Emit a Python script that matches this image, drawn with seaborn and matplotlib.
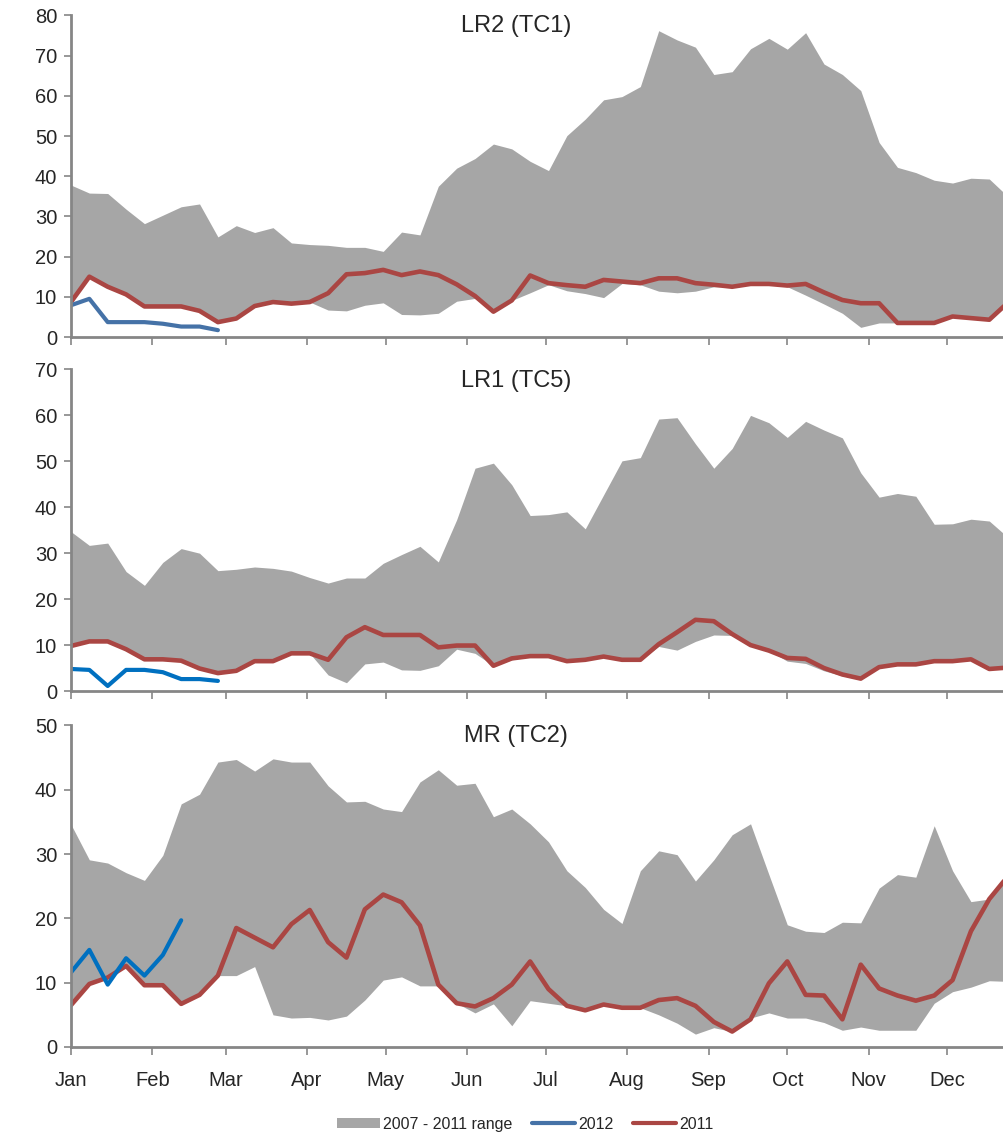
import numpy as np
import pandas as pd
import matplotlib
matplotlib.use('Agg')
import matplotlib.pyplot as plt
import seaborn as sns
from matplotlib.patches import Patch
from matplotlib.lines import Line2D

# Style
sns.set_style('white')
plt.rcParams['font.family'] = ['Liberation Sans', 'DejaVu Sans']

# Weekly data (week 1 .. 52)
months = ['Jan', 'Feb', 'Mar', 'Apr', 'May', 'Jun', 'Jul', 'Aug', 'Sep', 'Oct', 'Nov', 'Dec']
month_start_day = [0, 31, 59, 90, 120, 151, 181, 212, 243, 273, 304, 334]

# LR2 (TC1)
lr2_upper = [37.8, 35.8, 35.7, 31.8, 28.2, 30.3, 32.4, 33.1, 24.9, 27.7, 26.0, 27.2, 23.4,
             23.0, 22.8, 22.3, 22.3, 21.3, 26.1, 25.4, 37.5, 42.0, 44.4, 48.0, 46.8, 43.7,
             41.4, 50.1, 54.2, 59.0, 59.8, 62.3, 76.2, 73.9, 72.1, 65.3, 66.0, 71.7, 74.3,
             71.6, 75.7, 67.9, 65.3, 61.3, 48.4, 42.2, 40.9, 39.0, 38.3, 39.5, 39.3, 35.0]
lr2_lower = [8.7, 15.0, 12.5, 10.6, 7.6, 7.6, 7.6, 6.5, 3.7, 4.6, 7.7, 8.7, 8.3,
             8.7, 6.7, 6.5, 7.9, 8.5, 5.6, 5.5, 5.9, 8.9, 9.6, 6.3, 9.1, 11.0,
             13.0, 11.5, 10.8, 9.8, 13.3, 13.0, 11.4, 11.0, 11.4, 12.5, 12.5, 13.2, 13.2,
             12.5, 10.4, 8.2, 5.9, 2.4, 3.5, 3.5, 3.5, 3.5, 5.1, 4.7, 4.3, 8.5]
lr2_2011 = [8.7, 15.0, 12.5, 10.6, 7.6, 7.6, 7.6, 6.5, 3.7, 4.6, 7.7, 8.7, 8.3,
            8.7, 10.9, 15.6, 15.9, 16.7, 15.4, 16.3, 15.4, 13.1, 10.2, 6.3, 9.1, 15.3,
            13.4, 12.9, 12.5, 14.2, 13.8, 13.4, 14.6, 14.6, 13.4, 13.0, 12.5, 13.2, 13.2,
            12.8, 13.2, 11.1, 9.2, 8.4, 8.4, 3.5, 3.5, 3.5, 5.1, 4.7, 4.3, 8.5]
lr2_2012 = [7.9, 9.5, 3.7, 3.7, 3.7, 3.3, 2.6, 2.6, 1.7]

# LR1 (TC5)
lr1_upper = [34.7, 31.7, 32.2, 26.0, 23.0, 28.0, 31.0, 30.0, 26.2, 26.5, 27.0, 26.7, 26.1,
             24.7, 23.5, 24.6, 24.6, 27.8, 29.7, 31.5, 28.1, 37.3, 48.5, 49.6, 44.9, 38.2,
             38.4, 39.0, 35.3, 42.7, 50.1, 50.8, 59.2, 59.5, 53.8, 48.5, 52.8, 60.0, 58.4,
             55.2, 58.7, 56.8, 55.1, 47.5, 42.2, 43.0, 42.4, 36.3, 36.4, 37.4, 37.0, 33.5]
lr1_lower = [9.8, 10.8, 10.8, 9.1, 6.9, 6.9, 6.6, 4.9, 3.9, 4.4, 6.5, 6.5, 8.2,
             8.2, 3.5, 1.8, 5.9, 6.3, 4.6, 4.5, 5.5, 9.1, 8.2, 5.5, 6.8, 7.6,
             7.6, 6.5, 6.8, 7.5, 6.8, 6.8, 9.7, 8.9, 10.8, 12.2, 12.1, 10.0, 8.8,
             6.5, 6.0, 4.4, 3.3, 2.5, 5.2, 5.8, 5.8, 6.5, 6.5, 6.9, 4.8, 5.1]
lr1_2011 = [9.8, 10.8, 10.8, 9.1, 6.9, 6.9, 6.6, 4.9, 3.9, 4.4, 6.5, 6.5, 8.2,
            8.2, 6.8, 11.7, 13.9, 12.2, 12.2, 12.2, 9.5, 9.9, 9.9, 5.5, 7.1, 7.6,
            7.6, 6.5, 6.8, 7.5, 6.8, 6.8, 10.2, 12.8, 15.5, 15.2, 12.4, 10.0, 8.8,
            7.2, 7.0, 5.0, 3.6, 2.7, 5.2, 5.8, 5.8, 6.5, 6.5, 6.9, 4.8, 5.1]
lr1_2012 = [4.8, 4.6, 1.1, 4.6, 4.6, 4.1, 2.6, 2.6, 2.2]

# MR (TC2)
mr_upper = [34.6, 29.1, 28.6, 27.1, 25.9, 29.8, 37.8, 39.3, 44.3, 44.7, 42.9, 44.8, 44.3,
            44.3, 40.6, 38.1, 38.2, 37.0, 36.6, 41.2, 43.1, 40.7, 41.0, 35.8, 37.0, 34.7,
            31.9, 27.4, 24.8, 21.4, 19.2, 27.4, 30.5, 29.9, 25.8, 29.1, 33.0, 34.7, 26.8,
            19.0, 18.0, 17.8, 19.4, 19.3, 24.7, 26.8, 26.4, 34.4, 27.4, 22.6, 23.0, 26.5]
mr_lower = [6.5, 9.8, 10.8, 12.6, 9.6, 9.6, 6.7, 8.1, 11.1, 11.1, 12.5, 5.0, 4.5,
            4.6, 4.2, 4.8, 7.3, 10.4, 10.9, 9.5, 9.5, 6.8, 5.3, 6.7, 3.3, 7.2,
            6.8, 6.4, 5.7, 6.6, 6.1, 6.1, 5.0, 3.7, 2.0, 3.0, 2.4, 4.5, 5.3,
            4.5, 4.5, 3.8, 2.6, 3.1, 2.6, 2.6, 2.6, 6.8, 8.6, 9.3, 10.3, 10.2]
mr_2011 = [6.5, 9.8, 10.8, 12.6, 9.6, 9.6, 6.7, 8.1, 11.1, 18.5, 17.0, 15.5, 19.1,
           21.3, 16.3, 13.9, 21.4, 23.7, 22.5, 18.9, 9.7, 6.8, 6.3, 7.6, 9.7, 13.3,
           9.0, 6.4, 5.7, 6.6, 6.1, 6.1, 7.3, 7.6, 6.4, 3.9, 2.4, 4.3, 9.9,
           13.3, 8.1, 8.0, 4.3, 12.8, 9.1, 8.0, 7.2, 8.0, 10.4, 18.0, 23.0, 26.5]
mr_2012 = [11.6, 15.1, 9.7, 13.8, 11.1, 14.3, 19.7]

GRAY = '#A6A6A6'
RED = '#AA4643'
BLUE_LEGEND = '#4572A7'
AXIS = '#868686'

weeks = np.arange(52)
month_pos = [d / 7 for d in month_start_day]

panels = [
    ('LR2 (TC1)', lr2_upper, lr2_lower, lr2_2011, lr2_2012, 80, '#4572A7', 0.7049, 0.972),
    ('LR1 (TC5)', lr1_upper, lr1_lower, lr1_2011, lr1_2012, 70, '#0070C0', 0.3949, 0.6611),
    ('MR (TC2)', mr_upper, mr_lower, mr_2011, mr_2012, 50, '#0070C0', 0.0832, 0.3503),
]

fig = plt.figure(figsize=(10.04, 11.42), dpi=100)

for k, (name, upper, lower, y2011, y2012, ymax, blue, bottom, title_y) in enumerate(panels):
    ax = fig.add_axes([0.0707, bottom, 1 - 0.0707, 0.2816])
    df = pd.DataFrame({'week': weeks, 'upper': upper, 'lower': lower, 'y2011': y2011})
    df12 = pd.DataFrame({'week': weeks[:len(y2012)], 'y2012': y2012})

    ax.fill_between(df['week'], df['lower'], df['upper'], color=GRAY, linewidth=0)
    sns.lineplot(data=df, x='week', y='y2011', color=RED, linewidth=3.3, ax=ax, legend=False)
    sns.lineplot(data=df12, x='week', y='y2012', color=blue, linewidth=3.0, ax=ax, legend=False)

    ax.set_xlim(0, 50.8)
    ax.set_ylim(0, ymax)
    ax.set_yticks(range(0, ymax + 1, 10))
    ax.set_xticks(month_pos)
    if k == 2:
        ax.set_xticklabels(months)
    else:
        ax.set_xticklabels([])
    ax.set_xlabel('')
    ax.set_ylabel('')

    sns.despine(ax=ax, top=True, right=True)
    for side in ['left', 'bottom']:
        ax.spines[side].set_color(AXIS)
        ax.spines[side].set_linewidth(2)
    ax.tick_params(axis='y', direction='out', length=5, width=1.2, color=AXIS,
                   labelsize=14.5, pad=5, left=True)
    ax.tick_params(axis='x', direction='out', length=6, width=1.2, color=AXIS,
                   labelsize=14.5, pad=11, bottom=True)

    fig.text(0.514, title_y, name, ha='center', va='baseline', fontsize=17)

# Legend at the bottom
handles = [
    Patch(facecolor=GRAY, edgecolor='none', label='2007 - 2011 range'),
    Line2D([0], [0], color=BLUE_LEGEND, linewidth=3, label='2012'),
    Line2D([0], [0], color=RED, linewidth=3, label='2011'),
]
fig.legend(handles=handles, loc='lower center', bbox_to_anchor=(0.523, 0.0), ncol=3,
           frameon=False, fontsize=11.5, handlelength=2.7, handleheight=0.6,
           handletextpad=0.2, columnspacing=1.2, borderpad=0.15)

fig.savefig('out.png', dpi=100)
